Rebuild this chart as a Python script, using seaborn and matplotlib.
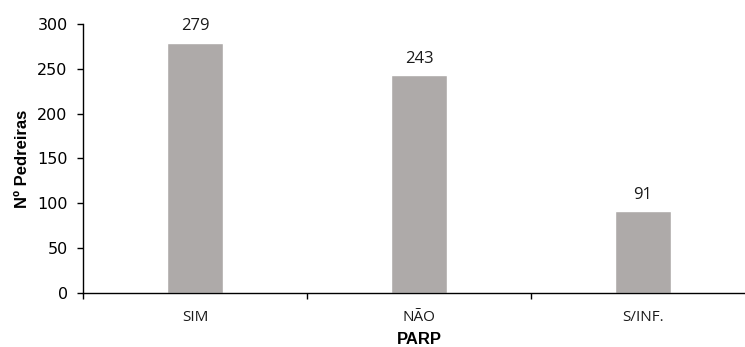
import matplotlib
matplotlib.use("Agg")
import matplotlib.pyplot as plt
import seaborn as sns
import pandas as pd

# Quarries by PARP status
categories = ["SIM", "NÃO", "S/INF."]
values = [279, 243, 91]
y_ticks = [0, 50, 100, 150, 200, 250, 300]

sns.set_theme(style="white")
plt.rcParams["font.family"] = ["Liberation Sans", "DejaVu Sans"]

df = pd.DataFrame({"PARP": categories, "count": values})

fig = plt.figure(figsize=(7.45, 3.47), dpi=100)
ax = fig.add_axes([83 / 745, 54 / 347, 672 / 745, 269 / 347])

sns.barplot(data=df, x="PARP", y="count", color="#aeaaa9", saturation=1,
            width=0.25, ax=ax)

ax.set_xlim(-0.5, 2.5)
ax.set_ylim(0, 300)
ax.set_yticks(y_ticks)

for s in ["top", "right"]:
    ax.spines[s].set_visible(False)
for s in ["left", "bottom"]:
    ax.spines[s].set_color("#000000")
    ax.spines[s].set_linewidth(1.0)

# category boundaries carry the tick marks on the x axis
ax.set_xticks([-0.5, 0.5, 1.5, 2.5], minor=True)
ax.tick_params(axis="x", which="minor", direction="out", length=4, width=1,
               color="#000000", bottom=True)
ax.tick_params(axis="x", which="major", length=0, pad=12)
ax.tick_params(axis="y", direction="out", length=4, width=1, color="#000000",
               left=True, pad=7, labelcolor="#000000")

for lab in ax.get_yticklabels():
    lab.set_family(["DejaVu Sans"])
    lab.set_fontsize(11.5)

for lab in ax.get_xticklabels():
    lab.set_family(["Open Sans", "DejaVu Sans"])
    lab.set_fontsize(11)
    lab.set_color("#1a1a1a")

ax.bar_label(ax.containers[0], labels=[str(v) for v in values], padding=6,
             fontsize=12, family=["Open Sans", "DejaVu Sans"], color="#1a1a1a")

ax.set_xlabel("PARP", fontsize=12, fontweight="bold", color="#000000", labelpad=5)
ax.set_ylabel("Nº Pedreiras", fontsize=12, fontweight="bold", color="#000000",
              labelpad=5)

fig.savefig("out.png", dpi=100, facecolor="white")
